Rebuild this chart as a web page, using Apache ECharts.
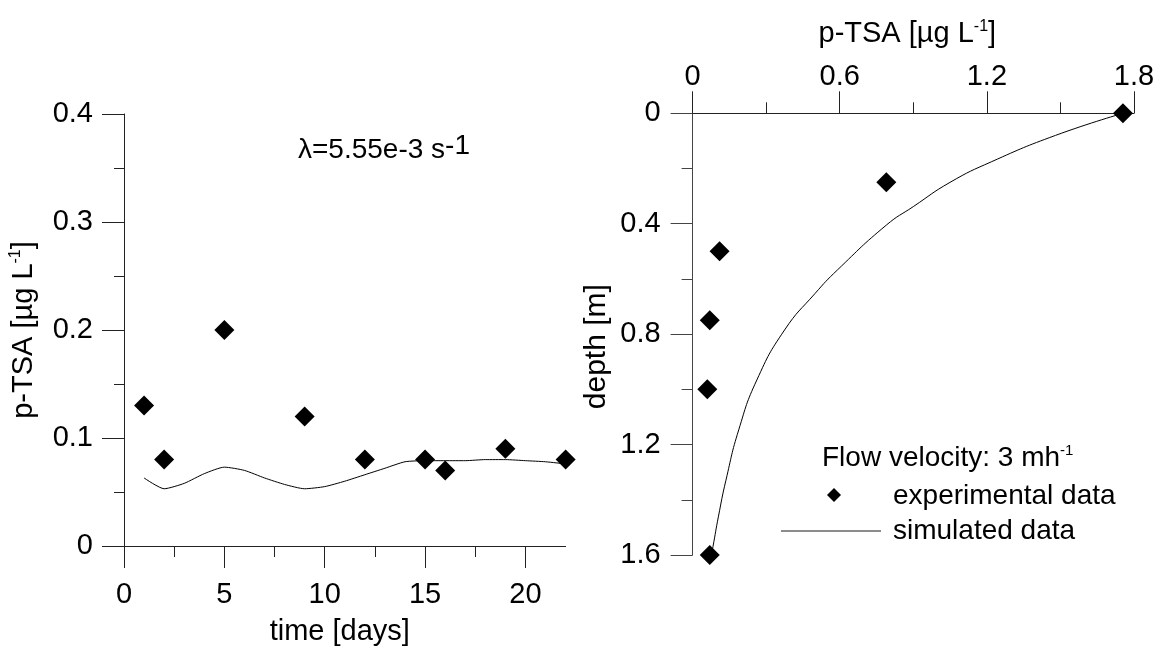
<!DOCTYPE html>
<html>
<head>
<meta charset="utf-8">
<script src="https://cdn.jsdelivr.net/npm/echarts@6.0.0/dist/echarts.min.js"></script>
<style>html,body{margin:0;padding:0;background:#fff}#c{width:1163px;height:652px}</style>
</head>
<body>
<div id="c"></div>
<script>
// ---- Left panel: concentration vs time ----
const timeDays   = [1, 2, 5, 9, 12, 15, 16, 19, 22];
const expConcT   = [0.13, 0.08, 0.20, 0.12, 0.08, 0.08, 0.07, 0.09, 0.08];
const simTime    = [1, 2, 3, 4, 5, 6, 7, 8, 9, 10, 11, 12, 13, 14, 15, 16, 17, 18, 19, 20, 21, 22];
const simConcT   = [0.063, 0.053, 0.058, 0.067, 0.073, 0.070, 0.063, 0.057, 0.053, 0.055, 0.060,
                    0.066, 0.072, 0.078, 0.079, 0.079, 0.079, 0.080, 0.080, 0.079, 0.078, 0.076];
const leftXTicks = [0, 5, 10, 15, 20];
const leftXMinor = [2.5, 7.5, 12.5, 17.5];

// ---- Right panel: concentration vs depth ----
const expDepth   = [0, 0.25, 0.5, 0.75, 1.0, 1.6];
const expConcD   = [1.755, 0.79, 0.11, 0.07, 0.06, 0.07];
const simDepth   = [0, 0.08, 0.175, 0.25, 0.338, 0.405, 0.568, 0.652, 0.785, 0.966, 1.147, 1.329, 1.462, 1.57, 1.6];
const simConcD   = [1.755, 1.48, 1.22, 1.05, 0.90, 0.79, 0.59, 0.50, 0.375, 0.262, 0.188, 0.136, 0.105, 0.083, 0.076];

const FONT = '"Liberation Sans", Arial, Helvetica, sans-serif';
const FS = 29;
const AX = '#222';
const SUP = { fontSize: 16, lineHeight: 16, verticalAlign: 'top', fontFamily: FONT, color: '#000' };
const labelStyle = (margin, extra) => Object.assign({ fontSize: FS, lineHeight: 29, fontFamily: FONT, color: '#000', margin: margin }, extra || {});
const nameStyle = (extra) => Object.assign({ fontSize: FS, lineHeight: 31, fontFamily: FONT, color: '#000', rich: { sup: SUP } }, extra || {});

const zip = (a, b) => a.map((v, i) => [v, b[i]]);

const option = {
  animation: false,
  backgroundColor: '#fff',
  grid: [
    { left: 124, top: 114, width: 441.6, height: 441 },
    { left: 692.6, top: 113.3, width: 441.4, height: 441.7 }
  ],
  xAxis: [
    {
      gridIndex: 0, type: 'value', min: 0, max: 22, interval: 5, position: 'bottom',
      axisLine: { show: true, onZero: false, lineStyle: { color: AX, width: 1 } },
      axisTick: { show: true, length: 22, customValues: leftXTicks, lineStyle: { color: AX } },
      axisLabel: labelStyle(34, { customValues: leftXTicks }),
      splitLine: { show: false },
      name: 'time [days]', nameLocation: 'middle', nameGap: 70,
      nameTextStyle: nameStyle({ padding: [0, 10, 0, 0] })
    },
    {
      gridIndex: 0, type: 'value', min: 0, max: 22, position: 'bottom',
      axisLine: { show: false, onZero: false },
      axisTick: { show: true, length: 11, customValues: leftXMinor, lineStyle: { color: AX } },
      axisLabel: { show: false }, splitLine: { show: false }
    },
    {
      gridIndex: 1, type: 'value', min: 0, max: 1.8, interval: 0.6, position: 'top',
      axisLine: { show: true, onZero: false, lineStyle: { color: AX, width: 1 } },
      axisTick: { show: true, length: 22, lineStyle: { color: AX } },
      minorTick: { show: true, splitNumber: 2, length: 11, lineStyle: { color: AX } },
      axisLabel: labelStyle(22),
      splitLine: { show: false },
      name: 'p-TSA [µg L{sup|-1}]', nameLocation: 'middle', nameGap: 64,
      nameTextStyle: nameStyle({ padding: [0, 12, 0, 0] })
    }
  ],
  yAxis: [
    {
      gridIndex: 0, type: 'value', min: 0, max: 0.4, interval: 0.1,
      axisLine: { show: true, onZero: false, lineStyle: { color: AX, width: 1 } },
      axisTick: { show: true, length: 22, lineStyle: { color: AX } },
      minorTick: { show: true, splitNumber: 2, length: 10, lineStyle: { color: AX } },
      axisLabel: labelStyle(31),
      splitLine: { show: false },
      name: 'p-TSA [µg L{sup|-1}]', nameLocation: 'middle', nameGap: 85,
      nameTextStyle: nameStyle()
    },
    {
      gridIndex: 1, type: 'value', min: 0, max: 1.6, interval: 0.4, inverse: true,
      axisLine: { show: true, onZero: false, lineStyle: { color: '#444', width: 1 } },
      axisTick: { show: true, length: 22, lineStyle: { color: '#444' } },
      minorTick: { show: true, splitNumber: 2, length: 11, lineStyle: { color: '#444' } },
      axisLabel: labelStyle(32),
      splitLine: { show: false },
      name: 'depth [m]', nameLocation: 'middle', nameGap: 80,
      nameTextStyle: nameStyle({ fontSize: 30, padding: [0, 25, 0, 0] })
    }
  ],
  graphic: [
    {
      type: 'text', x: 298, y: 150, silent: true,
      style: {
        text: 'λ=5.55e-3 s{b|-1}',
        fontSize: 28, lineHeight: 36, fontFamily: FONT, fill: '#000',
        align: 'left', verticalAlign: 'middle', textAlign: 'left', textVerticalAlign: 'middle',
        rich: { b: { fontSize: 28, lineHeight: 27, verticalAlign: 'top', fontFamily: FONT, fill: '#000', color: '#000' } }
      }
    },
    {
      type: 'text', x: 822, y: 458, silent: true,
      style: {
        text: 'Flow velocity: 3 mh{sup|-1}',
        fontSize: 28, lineHeight: 30, fontFamily: FONT, fill: '#000',
        align: 'left', verticalAlign: 'middle', textAlign: 'left', textVerticalAlign: 'middle',
        rich: { sup: { fontSize: 15, lineHeight: 16, verticalAlign: 'top', fontFamily: FONT, fill: '#000', color: '#000' } }
      }
    },
    {
      type: 'polygon', x: 834, y: 495, silent: true,
      shape: { points: [[0, -7], [7, 0], [0, 7], [-7, 0]] },
      style: { fill: '#000' }
    },
    {
      type: 'text', x: 893, y: 496, silent: true,
      style: {
        text: 'experimental data', fontSize: 28, fontFamily: FONT, fill: '#000',
        align: 'left', verticalAlign: 'middle', textAlign: 'left', textVerticalAlign: 'middle'
      }
    },
    {
      type: 'line', silent: true,
      shape: { x1: 781, y1: 531, x2: 881, y2: 531 },
      style: { stroke: '#666', lineWidth: 1.5 }
    },
    {
      type: 'text', x: 893, y: 531, silent: true,
      style: {
        text: 'simulated data', fontSize: 28, fontFamily: FONT, fill: '#000',
        align: 'left', verticalAlign: 'middle', textAlign: 'left', textVerticalAlign: 'middle'
      }
    }
  ],
  series: [
    {
      name: 'simulated data', type: 'line', xAxisIndex: 0, yAxisIndex: 0,
      data: zip(simTime, simConcT), symbol: 'none', smooth: 0.2,
      lineStyle: { color: '#000', width: 1 }, itemStyle: { color: '#000' }, z: 3
    },
    {
      name: 'experimental data', type: 'scatter', xAxisIndex: 0, yAxisIndex: 0,
      data: zip(timeDays, expConcT), symbol: 'diamond', symbolSize: 20, clip: false,
      itemStyle: { color: '#000', opacity: 1 }, z: 4
    },
    {
      name: 'simulated data', type: 'line', xAxisIndex: 2, yAxisIndex: 1,
      data: zip(simConcD, simDepth), symbol: 'none', smooth: 0.5,
      lineStyle: { color: '#000', width: 1 }, itemStyle: { color: '#000' }, z: 3
    },
    {
      name: 'experimental data', type: 'scatter', xAxisIndex: 2, yAxisIndex: 1,
      data: zip(expConcD, expDepth), symbol: 'diamond', symbolSize: 20, clip: false,
      itemStyle: { color: '#000', opacity: 1 }, z: 4
    }
  ]
};

const chart = echarts.init(document.getElementById('c'), null, { renderer: 'canvas' });
chart.setOption(option);
</script>
</body>
</html>
